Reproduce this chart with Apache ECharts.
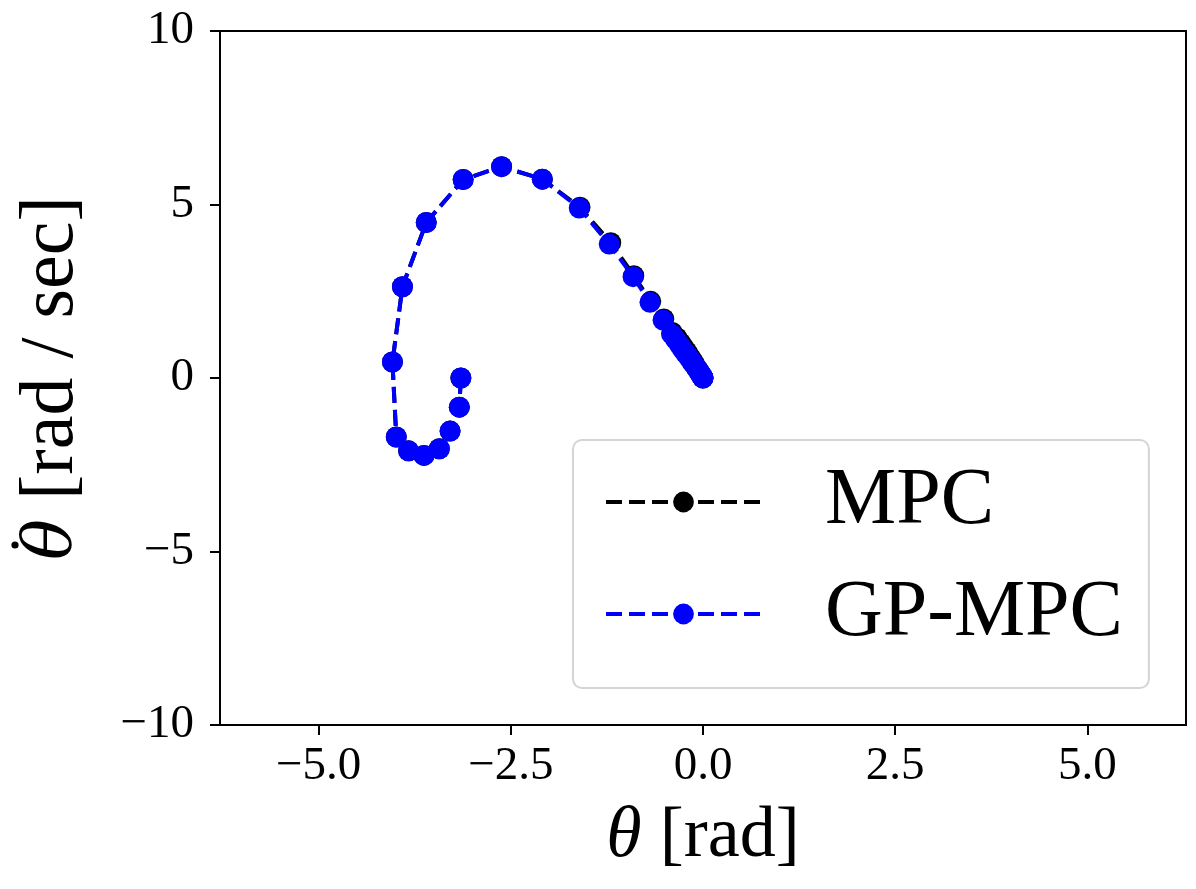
<!DOCTYPE html>
<html>
<head>
<meta charset="utf-8">
<script src="https://cdn.jsdelivr.net/npm/echarts@6/dist/echarts.min.js"></script>
<style>
html,body{margin:0;padding:0;background:#fff;}
#chart{width:1196px;height:889px;}
</style>
</head>
<body>
<div id="chart"></div>
<script>
// ---- data ----
const seriesNames = ['MPC', 'GP-MPC'];
const thetaGP = [-3.15, -3.17, -3.29, -3.43, -3.63, -3.83, -3.99, -4.04, -3.91, -3.60, -3.12, -2.62, -2.09, -1.61, -1.22, -0.91, -0.69, -0.52, -0.41, -0.36, -0.31, -0.27, -0.23, -0.19, -0.16, -0.13, -0.10, -0.08, -0.06, -0.045, -0.033, -0.024, -0.017, -0.011, -0.006, -0.002, 0.0];
const omegaGP = [0.00, -0.84, -1.53, -2.04, -2.23, -2.10, -1.70, 0.46, 2.63, 4.48, 5.72, 6.09, 5.73, 4.90, 3.86, 2.92, 2.18, 1.67, 1.27, 1.12, 0.97, 0.84, 0.72, 0.61, 0.51, 0.42, 0.34, 0.27, 0.21, 0.16, 0.12, 0.09, 0.06, 0.04, 0.02, 0.01, 0.00];
const thetaMPC = [-3.15, -3.17, -3.29, -3.43, -3.63, -3.83, -3.99, -4.04, -3.91, -3.60, -3.12, -2.62, -2.09, -1.60, -1.20, -0.90, -0.68, -0.51, -0.40, -0.34, -0.29, -0.25, -0.21, -0.18, -0.15, -0.12, -0.10, -0.08, -0.06, -0.045, -0.033, -0.024, -0.017, -0.011, -0.006, -0.002, 0.0];
const omegaMPC = [0.00, -0.84, -1.53, -2.04, -2.23, -2.10, -1.70, 0.46, 2.63, 4.48, 5.72, 6.09, 5.73, 4.92, 3.90, 2.95, 2.21, 1.70, 1.31, 1.16, 1.01, 0.88, 0.76, 0.64, 0.54, 0.44, 0.35, 0.28, 0.22, 0.17, 0.12, 0.09, 0.06, 0.04, 0.02, 0.01, 0.00];
const xTicks = [-5, -2.5, 0, 2.5, 5];
const yTicks = [-10, -5, 0, 5, 10];
const xRange = [-2 * Math.PI, 2 * Math.PI];
const yRange = [-10, 10];

const FONT = '"Liberation Serif", "DejaVu Serif", serif';
const toPairs = (xs, ys) => xs.map((x, i) => [x, ys[i]]);
const minus = s => s.replace('-', '\u2212');

const chart = echarts.init(document.getElementById('chart'), null, {renderer: 'canvas'});
chart.setOption({
  animation: false,
  backgroundColor: '#fff',
  textStyle: {fontFamily: FONT, color: '#000'},
  grid: {left: 220, right: 10, top: 31, bottom: 164, show: true, borderColor: '#000', borderWidth: 2, containLabel: false},
  xAxis: {
    type: 'value', min: xRange[0], max: xRange[1],
    axisLine: {onZero: false, lineStyle: {color: '#000', width: 2}},
    axisTick: {show: true, length: 10, lineStyle: {color: '#000', width: 2}, customValues: xTicks},
    axisLabel: {customValues: xTicks, color: '#000', fontFamily: FONT, fontSize: 47, margin: 18,
      formatter: v => minus(v.toFixed(1))},
    splitLine: {show: false},
    name: '{i|θ} [rad]', nameLocation: 'middle', nameGap: 72,
    nameTextStyle: {fontFamily: FONT, fontSize: 72, color: '#000', lineHeight: 80,
      rich: {i: {fontFamily: FONT, fontStyle: 'italic', fontSize: 72, lineHeight: 80}}}
  },
  yAxis: {
    type: 'value', min: yRange[0], max: yRange[1], interval: 5,
    axisLine: {show: true, onZero: false, lineStyle: {color: '#000', width: 2}},
    axisTick: {show: true, length: 10, lineStyle: {color: '#000', width: 2}},
    axisLabel: {color: '#000', fontFamily: FONT, fontSize: 47, margin: 26,
      formatter: v => minus(String(v))},
    splitLine: {show: false},
    name: '{i|θ} [rad / sec]', nameLocation: 'middle', nameRotate: 90, nameGap: 126,
    nameTextStyle: {fontFamily: FONT, fontSize: 76, color: '#000', lineHeight: 84,
      rich: {i: {fontFamily: '"DejaVu Serif", serif', fontStyle: 'italic', fontSize: 68, lineHeight: 84}}}
  },
  legend: {
    orient: 'vertical', left: 573, top: 440,
    data: seriesNames,
    itemWidth: 155, itemHeight: 26, itemGap: 32,
    padding: [22, 26, 34, 31],
    backgroundColor: '#fff', borderColor: '#d4d4d4', borderWidth: 2, borderRadius: 9,
    lineStyle: {width: 4, type: [16, 7]},
    textStyle: {fontFamily: FONT, fontSize: 80, color: '#000', lineHeight: 80, padding: [0, 0, 0, 59]}
  },
  graphic: [
    // dot accent of the y-axis label's theta (θ-dot)
    {type: 'circle', shape: {cx: 15, cy: 545, r: 3.6}, style: {fill: '#000'}, silent: true}
  ],
  series: [
    {
      name: seriesNames[0], type: 'line', data: toPairs(thetaMPC, omegaMPC),
      symbol: 'circle', symbolSize: 21, showSymbol: true,
      itemStyle: {color: '#000'},
      lineStyle: {color: '#000', width: 4, type: [16, 7]}, z: 2
    },
    {
      name: seriesNames[1], type: 'line', data: toPairs(thetaGP, omegaGP),
      symbol: 'circle', symbolSize: 21, showSymbol: true,
      itemStyle: {color: '#0000ff'},
      lineStyle: {color: '#0000ff', width: 4, type: [16, 7]}, z: 3
    }
  ]
});
</script>
</body>
</html>
